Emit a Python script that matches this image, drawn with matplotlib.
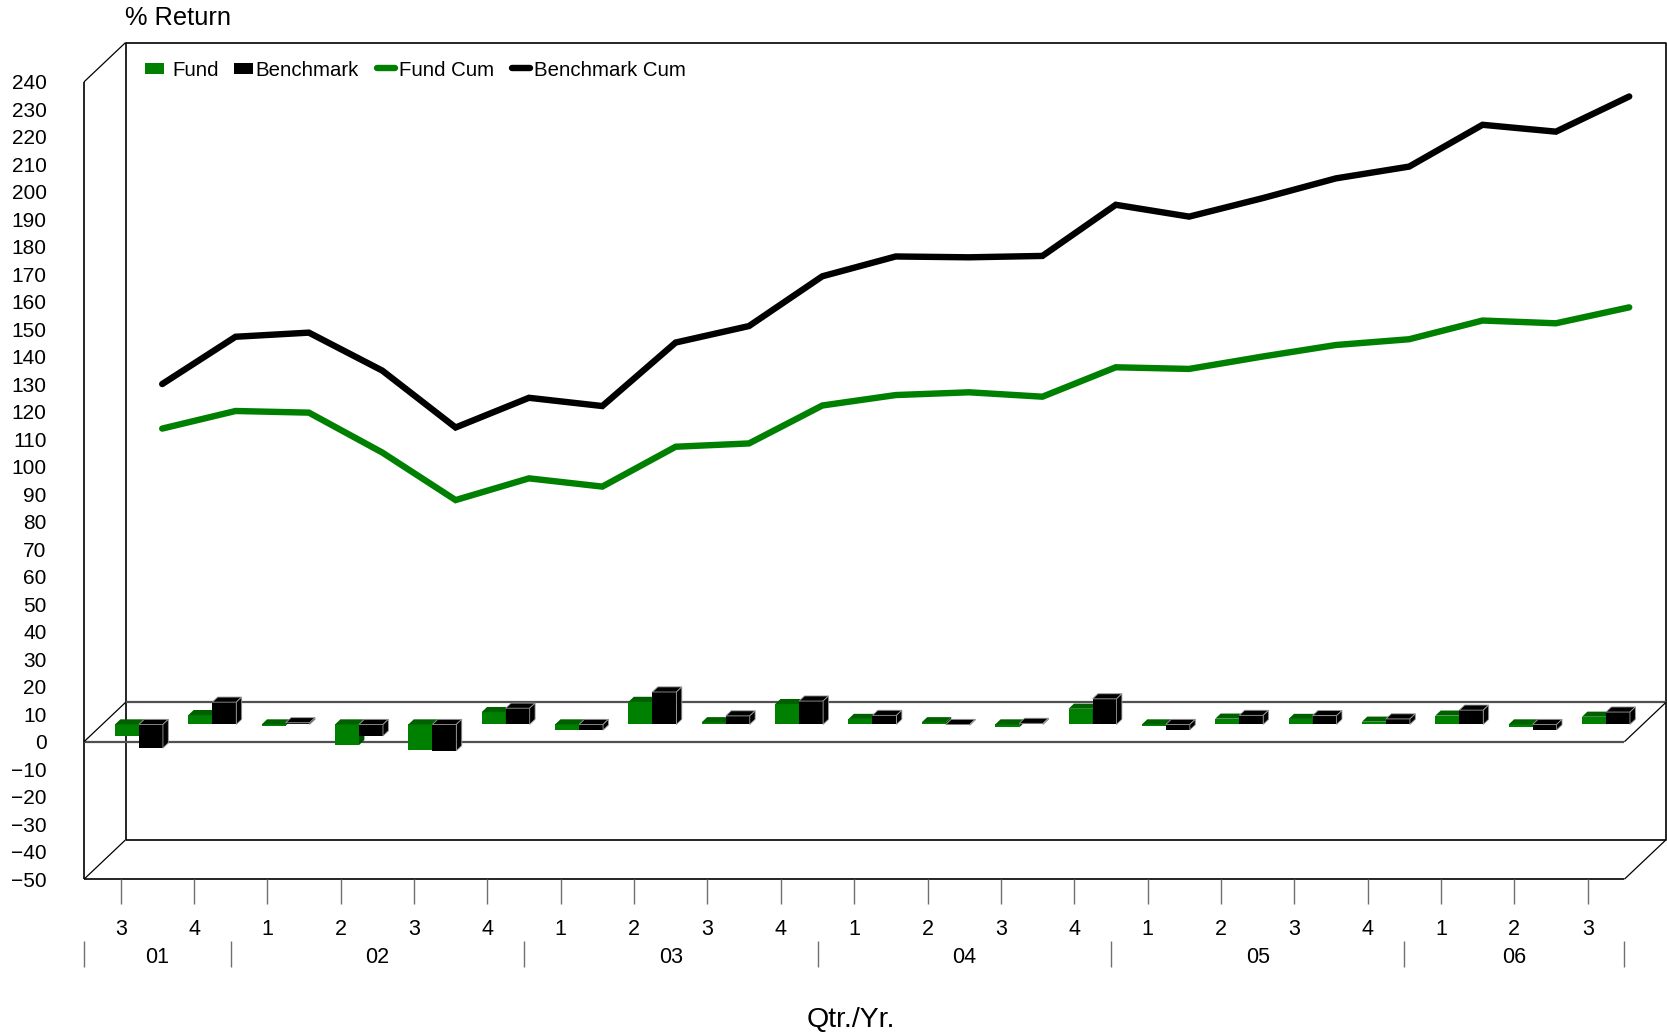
import matplotlib
matplotlib.use('Agg')
import matplotlib.pyplot as plt
from matplotlib.patches import Polygon, Rectangle
from matplotlib.lines import Line2D
import numpy as np

plt.rcParams['font.family'] = ['Liberation Sans', 'DejaVu Sans']

# data: quarterly returns (bars) and cumulative returns (lines), Q3 2001 .. Q3 2006
quarters = ['3', '4', '1', '2', '3', '4', '1', '2', '3', '4', '1', '2', '3', '4',
            '1', '2', '3', '4', '1', '2', '3']
years = ['01', '02', '03', '04', '05', '06']
quarters_per_year = [2, 4, 4, 4, 4, 3]

fund_ret = [-4.2, 3.4, -0.4, -7.5, -9.3, 4.5, -2.1, 8.2, 0.8, 7.4, 2.0,
            0.8, -1.1, 5.7, -0.6, 2.1, 2.0, 1.0, 3.2, -0.8, 2.8]
bench_ret = [-8.6, 8.1, 0.6, -4.2, -9.6, 5.9, -2.1, 11.8, 3.1, 8.5, 3.3,
             -0.3, 0.4, 9.3, -2.0, 3.3, 3.2, 2.0, 5.2, -2.0, 4.5]

fund_cum = [99.6, 106.0, 105.4, 90.9, 73.6, 81.5, 78.5, 93.0, 94.2, 108.0, 111.8,
            112.8, 111.2, 121.9, 121.3, 125.8, 130.0, 132.1, 138.9, 137.9, 143.7]
bench_cum = [115.8, 133.0, 134.5, 120.7, 100.0, 110.8, 107.8, 130.9, 136.9, 155.0, 162.2,
             161.9, 162.4, 181.0, 176.7, 183.4, 190.6, 194.9, 210.1, 207.6, 220.4]

GREEN = '#008000'
W, H = 1667, 1033

fig = plt.figure(figsize=(W / 100, H / 100), dpi=100)
ax = fig.add_axes([84 / W, 1 - 879.2 / H, (1624.4 - 84) / W, (879.2 - 81.9) / H])
n = len(quarters)
x_lo, x_hi = -0.5, n - 0.5
y_lo, y_hi = -50, 240
ax.set_xlim(x_lo, x_hi)
ax.set_ylim(y_lo, y_hi)
for s in ax.spines.values():
    s.set_visible(False)

# pseudo 3d depth (in data units)
DX, DY = 0.566, 14.3

def seg(xs, ys, **kw):
    kw.setdefault('color', 'black')
    kw.setdefault('lw', 1.2)
    ax.plot(xs, ys, clip_on=False, solid_capstyle='butt', **kw)

# back wall
seg([x_lo + DX, x_lo + DX, x_hi + DX, x_hi + DX, x_lo + DX],
    [y_lo + DY, y_hi + DY, y_hi + DY, y_lo + DY, y_lo + DY], zorder=1)
# front left edge + bottom
seg([x_lo, x_lo], [y_lo, y_hi], zorder=1)
seg([x_lo, x_hi], [y_lo, y_lo], zorder=1)
# diagonals
seg([x_lo, x_lo + DX], [y_hi, y_hi + DY], lw=0.9, zorder=1)
seg([x_lo, x_lo + DX], [y_lo, y_lo + DY], lw=0.9, zorder=1)
seg([x_hi, x_hi + DX], [y_lo, y_lo + DY], lw=0.9, zorder=1)
# zero floor
seg([x_lo, x_hi], [0, 0], color='#505050', lw=1.6, zorder=2)
seg([x_lo + DX, x_hi + DX], [DY, DY], color='#505050', lw=1.6, zorder=2)
seg([x_lo, x_lo + DX], [0, DY], lw=0.9, zorder=2)
seg([x_hi, x_hi + DX], [0, DY], lw=0.9, zorder=2)

# 3d bars
f0, f1 = 0.44, 0.57
bw = 0.327
x = np.arange(n)

def box(x0, v, front, top, side, edge):
    base = f0 * DY
    lo, hi = base + min(0, v), base + max(0, v)
    ddx, ddy = (f1 - f0) * DX, (f1 - f0) * DY
    ax.add_patch(Rectangle((x0, lo), bw, hi - lo, facecolor=front, edgecolor='none',
                           zorder=3, clip_on=False))
    ax.add_patch(Polygon([(x0, hi), (x0 + bw, hi), (x0 + bw + ddx, hi + ddy), (x0 + ddx, hi + ddy)],
                         closed=True, facecolor=top, edgecolor=edge, lw=0.6, zorder=3, clip_on=False))
    ax.add_patch(Polygon([(x0 + bw, lo), (x0 + bw, hi), (x0 + bw + ddx, hi + ddy), (x0 + bw + ddx, lo + ddy)],
                         closed=True, facecolor=side, edgecolor=edge, lw=0.6, zorder=3, clip_on=False))

for i in range(n):
    c = x[i] + f0 * DX
    box(c - bw, fund_ret[i], GREEN, '#006000', '#004d00', 'none')
    box(c, bench_ret[i], 'black', 'black', 'black', '#9a9a9a')

# cumulative lines on the back wall
ax.plot(x + DX, np.array(fund_cum) + DY, color=GREEN, lw=4.6, solid_capstyle='round',
        solid_joinstyle='miter', zorder=4, clip_on=False)
ax.plot(x + DX, np.array(bench_cum) + DY, color='black', lw=4.6, solid_capstyle='round',
        solid_joinstyle='miter', zorder=4, clip_on=False)

# axes ticks
ax.set_yticks(np.arange(-50, 250, 10))
ax.tick_params(axis='y', length=0, pad=27, labelsize=15)
ax.set_xticks(x)
ax.set_xticklabels(quarters)
ax.tick_params(axis='x', length=18, width=1, color='#707070', pad=10.5, labelsize=15.5)

# year groups
bounds = np.concatenate([[0], np.cumsum(quarters_per_year)]) - 0.5
for b in bounds:
    seg([b, b], [-72.5, -81.9], color='#707070', lw=1)
for yr, a, b in zip(years, bounds[:-1], bounds[1:]):
    ax.text((a + b) / 2, -78.6, yr, ha='center', va='center', fontsize=15.5, clip_on=False)

fig.text(851 / W, 1 - 1020 / H, 'Qtr./Yr.', ha='center', va='center', fontsize=20.5)
fig.text(125.4 / W, 1 - 18 / H, '% Return', ha='left', va='center', fontsize=18.3)

# legend
ly = 1 - 68.3 / H
for px, col in [(145, GREEN), (234, 'black')]:
    fig.add_artist(Rectangle((px / W, ly - 5.7 / H), 19 / W, 11.4 / H,
                             transform=fig.transFigure, facecolor=col, edgecolor='none'))
for px, col in [(377, GREEN), (512, 'black')]:
    fig.add_artist(Line2D([px / W, (px + 18) / W], [ly, ly], transform=fig.transFigure,
                          color=col, lw=4.6, solid_capstyle='round'))
ty = 1 - 70.5 / H
for px, lab in [(172.2, 'Fund'), (255.2, 'Benchmark'), (398.7, 'Fund Cum'), (533.7, 'Benchmark Cum')]:
    fig.text(px / W, ty, lab, ha='left', va='center', fontsize=14.7)

fig.savefig('out.png', dpi=100)
